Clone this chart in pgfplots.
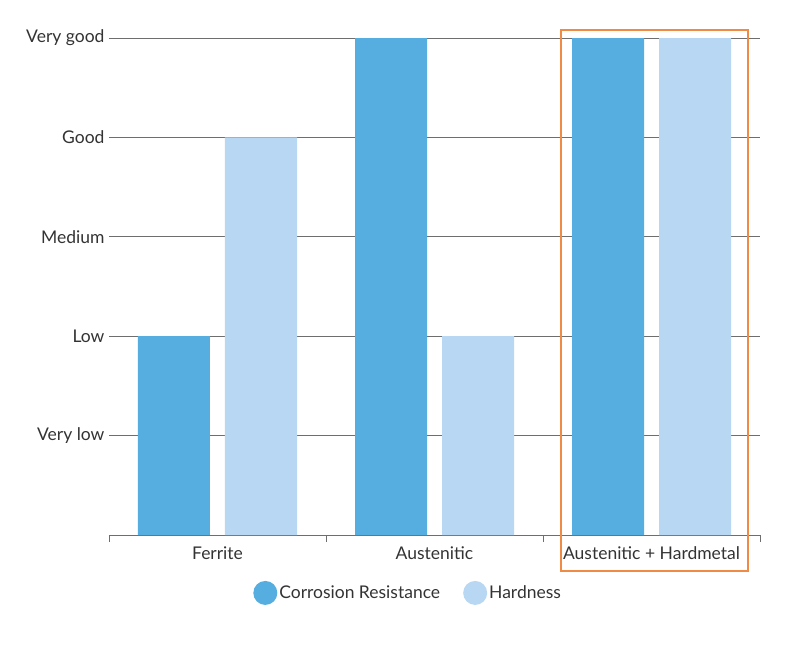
\documentclass[border=0pt]{standalone}
\usepackage{fontspec}
\setmainfont{Lato}
\usepackage{pgfplots}
\pgfplotsset{compat=1.18}
\definecolor{corr}{HTML}{56ADE0}
\definecolor{hard}{HTML}{B8D7F2}
\definecolor{frame}{HTML}{F08B45}
\definecolor{txt}{HTML}{333333}
\definecolor{gridc}{HTML}{6E6E6E}
\begin{document}
\begin{tikzpicture}
\begin{axis}[
    at={(0,0)}, anchor=south west,
    scale only axis, width=651pt, height=497pt,
    font=\fontsize{17.5}{21}\selectfont\color{txt},
    /pgf/number format/assume math mode=true,
    xmin=-0.5, xmax=2.5, ymin=0, ymax=5,
    xtick={0,1,2},
    xticklabels={Ferrite, Austenitic, Austenitic + Hardmetal},
    extra x ticks={-0.5,0.5,1.5,2.5},
    extra x tick labels={},
    extra x tick style={major tick length=7pt, tick style={gridc, line width=0.7pt}, tick align=outside},
    ytick={1,2,3,4,5},
    yticklabels={Very low, Low, Medium, Good, Very good},
    ymajorgrids, grid style={gridc, line width=0.7pt},
    major tick length=0pt,
    xticklabel style={yshift=-8pt},
    yticklabel style={xshift=-1pt},
    axis x line*=bottom, axis y line*=left,
    x axis line style={gridc, line width=0.7pt, -},
    y axis line style={draw=none},
    clip=false,
    legend style={at={(0.4595,-0.088)}, anchor=north, draw=none, fill=none,
        legend columns=2, /tikz/every even column/.append style={column sep=21pt},
        font=\fontsize{17.5}{21}\selectfont\color{txt}},
    legend cell align=left,
    legend image code/.code={\fill[#1] (-2.5pt,0) circle (12pt);},
]
\addplot[ybar, bar width=72pt, bar shift=-43.5pt, fill=corr, draw=none]
    coordinates {(0,2) (1,5) (2,5)};
\addlegendentry{Corrosion Resistance}
\addplot[ybar, bar width=72pt, bar shift=43.5pt, fill=hard, draw=none]
    coordinates {(0,4) (1,2) (2,5)};
\addlegendentry{Hardness}
\draw[frame, line width=1.3pt] (axis cs:1.583,5.08) rectangle (axis cs:2.445,-0.362);
\end{axis}
\useasboundingbox (-109pt,-113pt) rectangle (691pt,535pt);
\end{tikzpicture}
\end{document}
